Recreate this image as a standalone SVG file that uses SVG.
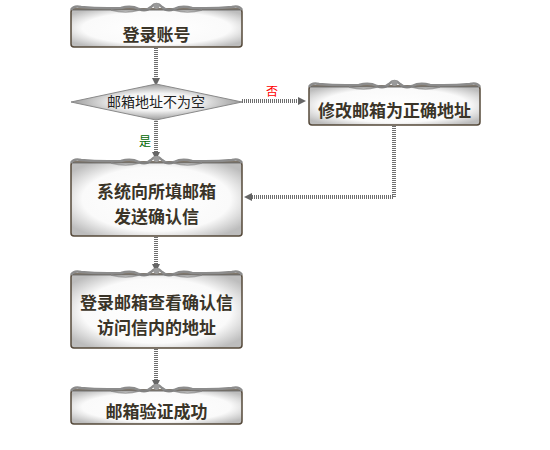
<svg xmlns="http://www.w3.org/2000/svg" xmlns:xlink="http://www.w3.org/1999/xlink" width="550" height="450" viewBox="0 0 550 450">
<style>
.box{fill:url(#boxGrad);stroke:#55493a;stroke-width:1.5}
.t{font-family:"Noto Sans CJK SC","Noto Sans CJK JP",sans-serif;font-weight:bold;font-size:17px;fill:#3a3428;text-anchor:middle}
.td{font-family:"Noto Sans CJK SC","Noto Sans CJK JP",sans-serif;font-size:14px;fill:#222;text-anchor:middle}
.conn{fill:none;stroke:#6e6e6e;stroke-width:4;stroke-dasharray:1 1}
.lab{font-family:"Noto Sans CJK SC",sans-serif;font-size:12px;text-anchor:middle}
</style>
<defs>
<radialGradient id="boxGrad" cx="50%" cy="50%" r="62%">
<stop offset="0" stop-color="#ffffff"/>
<stop offset="0.7" stop-color="#fafafa"/>
<stop offset="1" stop-color="#bdbdbd"/>
</radialGradient>
<radialGradient id="diaGrad" cx="50%" cy="50%" r="55%">
<stop offset="0" stop-color="#ffffff"/>
<stop offset="0.45" stop-color="#f2f2f2"/>
<stop offset="1" stop-color="#8a8a8a"/>
</radialGradient>
<marker id="arr" markerWidth="8" markerHeight="8" refX="4" refY="4" orient="auto" markerUnits="userSpaceOnUse">
<path d="M0,0 L8,4 L0,8 Z" fill="#666"/>
</marker>
<g id="orn">
<path d="M0,4 Q3,-1 10,1 Q30,3 50,2 Q60,-1 68,3 Q75,6 80,1 Q85.5,-5 91,1 Q96,6 103,3 Q111,-1 121,2 Q141,3 161,1 Q168,-1 171,4" fill="none" stroke="#8c8c8c" stroke-width="2.5"/>
<path d="M40,4 Q55,8 68,4 M103,4 Q116,8 131,4" fill="none" stroke="#a0a0a0" stroke-width="1.5"/>
<circle cx="85.5" cy="0" r="3" fill="#9a9a9a"/>
<path d="M2,4 L169,4" fill="none" stroke="#777" stroke-width="1"/>
</g>
</defs>

<g id="connectors">
<path class="conn" d="M156,48 V82" marker-end="url(#arr)"/>
<path class="conn" d="M156,121 V156" marker-end="url(#arr)"/>
<path class="conn" d="M242,101 H302" marker-end="url(#arr)"/>
<path class="conn" d="M394,126 V197 H248" marker-end="url(#arr)"/>
<path class="conn" d="M156,237 V268" marker-end="url(#arr)"/>
<path class="conn" d="M156,349 V384" marker-end="url(#arr)"/>
<text class="lab" x="272" y="96" fill="#ff0000">否</text>
<text class="lab" x="145" y="146" fill="#006600">是</text>
</g>

<g id="n1">
<rect class="box" x="71" y="9" width="171" height="38" rx="3"/>
<use xlink:href="#orn" x="71" y="6"/>
<text class="t" x="156.5" y="41">登录账号</text>
</g>

<g id="n2">
<polygon points="71,102 156,84 242,102 156,120" fill="url(#diaGrad)" stroke="#8a8a8a" stroke-width="1"/>
<text class="td" x="156" y="107">邮箱地址不为空</text>
</g>

<g id="n3">
<rect class="box" x="309" y="86" width="171" height="39" rx="3"/>
<use xlink:href="#orn" x="309" y="83"/>
<text class="t" x="394.5" y="117">修改邮箱为正确地址</text>
</g>

<g id="n4">
<rect class="box" x="71" y="162" width="171" height="74" rx="3"/>
<use xlink:href="#orn" x="71" y="159"/>
<text class="t" x="156.5" y="197.5">系统向所填邮箱</text>
<text class="t" x="156.5" y="222.5">发送确认信</text>
</g>

<g id="n5">
<rect class="box" x="71" y="274" width="171" height="74" rx="3"/>
<use xlink:href="#orn" x="71" y="271"/>
<text class="t" x="156.5" y="309">登录邮箱查看确认信</text>
<text class="t" x="156.5" y="334">访问信内的地址</text>
</g>

<g id="n6">
<rect class="box" x="71" y="390" width="171" height="34" rx="3"/>
<use xlink:href="#orn" x="71" y="387"/>
<text class="t" x="156.5" y="418">邮箱验证成功</text>
</g>
</svg>
